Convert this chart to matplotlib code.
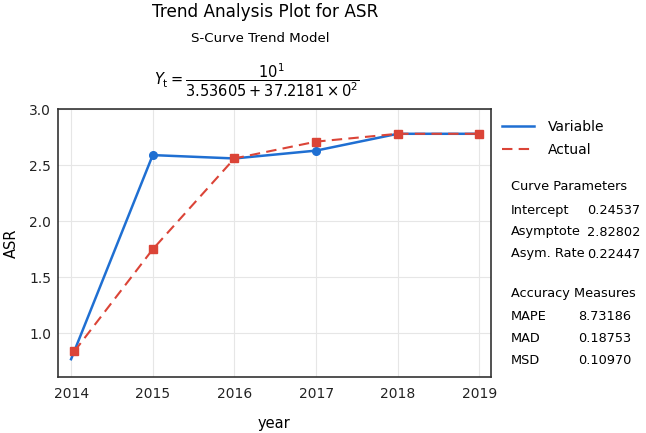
import matplotlib
matplotlib.use("Agg")
import matplotlib.pyplot as plt
from matplotlib.lines import Line2D

years = [2014, 2015, 2016, 2017, 2018, 2019]
variable = [0.77, 2.59, 2.56, 2.63, 2.78, 2.78]
actual_x = [2014.04, 2015, 2016, 2017, 2018, 2019]
actual = [0.84, 1.75, 2.56, 2.71, 2.78, 2.78]
y_ticks = [1.0, 1.5, 2.0, 2.5, 3.0]

param_names = ["Intercept", "Asymptote", "Asym. Rate"]
param_vals = ["0.24537", "2.82802", "0.22447"]
measure_names = ["MAPE", "MAD", "MSD"]
measure_vals = ["8.73186", "0.18753", "0.10970"]

BLUE = "#1f6fd2"
RED = "#db4437"

fig = plt.figure(figsize=(6.46, 4.33), dpi=100)
ax = fig.add_axes([0.0898, 0.129, 0.670, 0.619])

ax.plot(years, variable, color=BLUE, linewidth=1.8, marker="o", markersize=5.5,
        markevery=[1, 2, 3, 4, 5], zorder=3)
ax.plot(actual_x, actual, color=RED, linewidth=1.5, linestyle=(0, (5, 3)),
        marker="s", markersize=6, zorder=4)

ax.set_xlim(2013.84, 2019.14)
ax.set_ylim(0.61, 3.0)
ax.set_xticks(years)
ax.set_yticks(y_ticks)
ax.set_yticklabels([f"{v:.1f}" for v in y_ticks])
ax.tick_params(length=0, labelsize=10, colors="#222222")
ax.tick_params(axis="y", pad=5)
ax.tick_params(axis="x", pad=7)
ax.grid(True, color="#e6e6e6", linewidth=0.8)
for s in ax.spines.values():
    s.set_color("#333333")
    s.set_linewidth(1.2)
ax.set_xlabel("year", fontsize=10.5, labelpad=11)
ax.set_ylabel("ASR", fontsize=10.5, labelpad=7)

fig.text(0.41, 0.961, "Trend Analysis Plot for ASR", ha="center", va="baseline", fontsize=12.2)
fig.text(0.403, 0.903, "S-Curve Trend Model", ha="center", va="baseline", fontsize=9.6)
fig.text(0.398, 0.815, r"$Y_{\mathrm{t}} = \dfrac{10^1}{3.53605 + 37.2181 \times 0^2}$",
         ha="center", va="center", fontsize=10.5)

handles = [Line2D([], [], color=BLUE, linewidth=1.8),
           Line2D([], [], color=RED, linewidth=1.5, linestyle=(0, (5, 3)))]
ax.legend(handles, ["Variable", "Actual"], loc="upper left", bbox_to_anchor=(1.0, 1.0),
          frameon=False, fontsize=10, handlelength=2.3, handletextpad=1.0,
          labelspacing=0.6, borderaxespad=0.4)

tx = 511 / 646
vx = 640 / 646
fs = 9.3
fig.text(tx, 1 - 187 / 433, "Curve Parameters", va="center", fontsize=fs)
for i, (n, v) in enumerate(zip(param_names, param_vals)):
    fig.text(tx, 1 - (210 + 22 * i) / 433, n, va="center", fontsize=fs)
    fig.text(vx, 1 - (210 + 22 * i) / 433, v, va="center", ha="right", fontsize=fs)
fig.text(tx, 1 - 294 / 433, "Accuracy Measures", va="center", fontsize=fs)
for i, (n, v) in enumerate(zip(measure_names, measure_vals)):
    fig.text(tx, 1 - (316 + 22 * i) / 433, n, va="center", fontsize=fs)
    fig.text(578 / 646, 1 - (316 + 22 * i) / 433, v, va="center", fontsize=fs)

fig.savefig("out.png", dpi=100)
